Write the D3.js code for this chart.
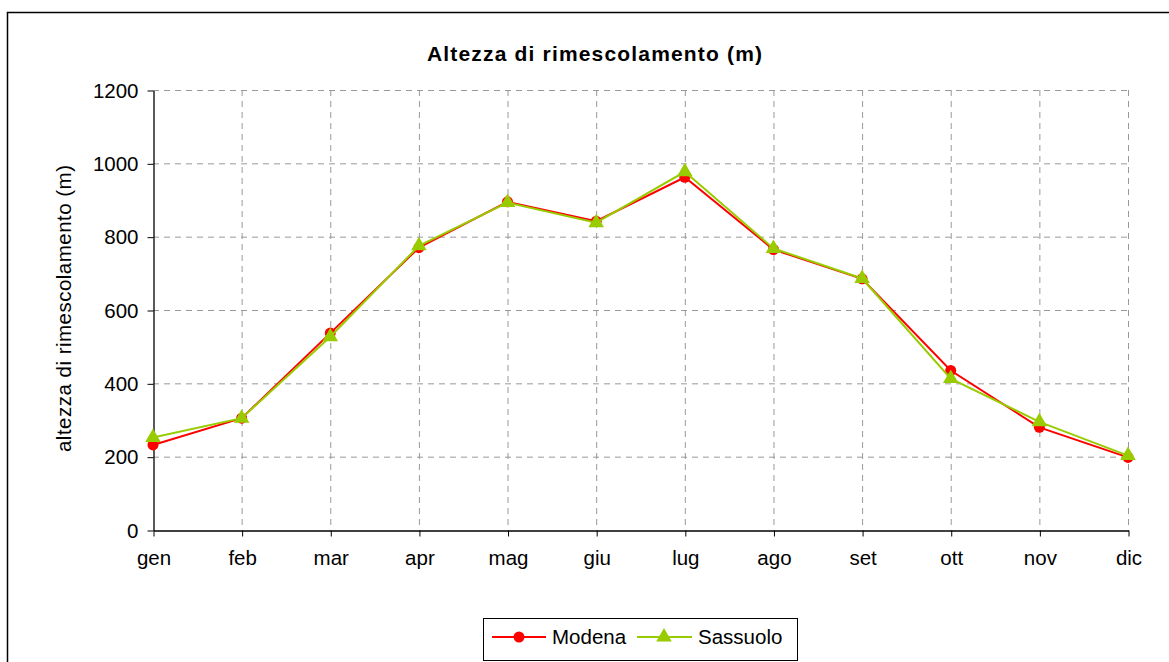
<!DOCTYPE html>
<html>
<head>
<meta charset="utf-8">
<script src="https://cdn.jsdelivr.net/npm/d3@7"></script>
<style>
  body { margin: 0; background: #fff; }
  text { font-family: Arial, "Liberation Sans", sans-serif; }
</style>
</head>
<body>
<script>
var width = 1169;
var height = 662;

var months = ["gen","feb","mar","apr","mag","giu","lug","ago","set","ott","nov","dic"];
var modena = [232, 305, 537, 770, 895, 842, 962, 765, 685, 435, 280, 198];
var sassuolo = [252, 305, 527, 775, 893, 838, 977, 768, 686, 413, 295, 203];
var yTicks = [0, 200, 400, 600, 800, 1000, 1200];

var svg = d3.select("body")
    .append("svg")
    .attr("width", width)
    .attr("height", height);

// outer chart frame (runs off the picture on right and bottom)
svg.append("rect")
    .attr("x", 7.5)
    .attr("y", 12.5)
    .attr("width", 1200)
    .attr("height", 700)
    .attr("fill", "none")
    .attr("stroke", "#000")
    .attr("stroke-width", 1.5);

var x = d3.scalePoint()
    .domain(months)
    .range([153, 1128]);

var y = d3.scaleLinear()
    .domain([0, 1200])
    .range([530, 90]);

// grid
svg.append("g").selectAll("line")
    .data(yTicks.slice(1))
    .enter()
    .append("line")
    .attr("x1", 153)
    .attr("x2", 1128)
    .attr("y1", function(d) { return y(d) + 0.5; })
    .attr("y2", function(d) { return y(d) + 0.5; })
    .attr("stroke", "#999")
    .attr("stroke-dasharray", "6,5");

svg.append("g").selectAll("line")
    .data(months.slice(1))
    .enter()
    .append("line")
    .attr("x1", function(d) { return x(d) + 0.5; })
    .attr("x2", function(d) { return x(d) + 0.5; })
    .attr("y1", 90)
    .attr("y2", 530)
    .attr("stroke", "#999")
    .attr("stroke-dasharray", "6,5");

// axes
var yAxis = svg.append("g")
    .attr("transform", "translate(153.5,0.5)")
    .call(d3.axisLeft(y).tickValues(yTicks).tickFormat(d3.format("d"))
        .tickSize(6).tickPadding(9).tickSizeOuter(0));

var xAxis = svg.append("g")
    .attr("transform", "translate(0.5,530.5)")
    .call(d3.axisBottom(x).tickSize(6).tickPadding(14).tickSizeOuter(0));

[yAxis, xAxis].forEach(function(a) {
    a.select(".domain").attr("stroke", "#000").attr("stroke-width", 1.3);
    a.selectAll(".tick line").attr("stroke", "#000");
    a.selectAll("text")
        .attr("font-size", "20.5px")
        .attr("fill", "#000")
        .style("font-family", "Arial, 'Liberation Sans', sans-serif");
});

// title
svg.append("text")
    .attr("x", 427)
    .attr("y", 61)
    .attr("font-size", "21px")
    .attr("font-weight", "bold")
    .attr("textLength", 335)
    .attr("lengthAdjust", "spacing")
    .text("Altezza di rimescolamento (m)");

// y label
svg.append("text")
    .attr("transform", "translate(71,452) rotate(-90)")
    .attr("font-size", "20.5px")
    .attr("textLength", 287)
    .attr("lengthAdjust", "spacing")
    .text("altezza di rimescolamento (m)");

var line = d3.line()
    .x(function(d, i) { return x(months[i]); })
    .y(function(d) { return y(d); });

var tri = d3.symbol().type(d3.symbolTriangle).size(105);

// Modena
svg.append("path")
    .datum(modena)
    .attr("d", line)
    .attr("fill", "none")
    .attr("stroke", "#ff0000")
    .attr("stroke-width", 2);

svg.append("g").selectAll("circle")
    .data(modena)
    .enter()
    .append("circle")
    .attr("cx", function(d, i) { return x(months[i]); })
    .attr("cy", function(d) { return y(d); })
    .attr("r", 5.5)
    .attr("fill", "#ff0000");

// Sassuolo
svg.append("path")
    .datum(sassuolo)
    .attr("d", line)
    .attr("fill", "none")
    .attr("stroke", "#99cc00")
    .attr("stroke-width", 2);

svg.append("g").selectAll("path")
    .data(sassuolo)
    .enter()
    .append("path")
    .attr("d", tri)
    .attr("transform", function(d, i) { return "translate(" + x(months[i]) + "," + y(d) + ")"; })
    .attr("fill", "#99cc00");

// legend
var leg = svg.append("g");
leg.append("rect")
    .attr("x", 483.5)
    .attr("y", 618.5)
    .attr("width", 314)
    .attr("height", 42)
    .attr("fill", "#fff")
    .attr("stroke", "#000")
    .attr("stroke-width", 1);

leg.append("line")
    .attr("x1", 492).attr("x2", 546)
    .attr("y1", 637).attr("y2", 637)
    .attr("stroke", "#ff0000").attr("stroke-width", 2);
leg.append("circle")
    .attr("cx", 519).attr("cy", 637).attr("r", 5.5)
    .attr("fill", "#ff0000");
leg.append("text")
    .attr("x", 552).attr("y", 644)
    .attr("font-size", "20.5px")
    .text("Modena");

leg.append("line")
    .attr("x1", 637).attr("x2", 692)
    .attr("y1", 637).attr("y2", 637)
    .attr("stroke", "#99cc00").attr("stroke-width", 2);
leg.append("path")
    .attr("d", tri)
    .attr("transform", "translate(664,637)")
    .attr("fill", "#99cc00");
leg.append("text")
    .attr("x", 698).attr("y", 644)
    .attr("font-size", "20.5px")
    .text("Sassuolo");
</script>
</body>
</html>
